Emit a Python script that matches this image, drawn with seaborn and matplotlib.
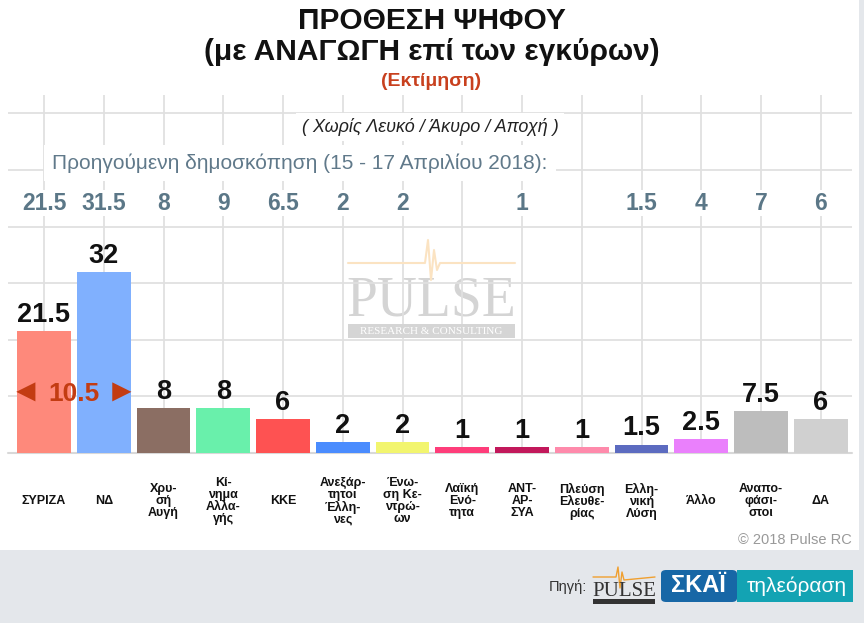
import matplotlib
matplotlib.use("Agg")
import matplotlib.pyplot as plt
import seaborn as sns
import pandas as pd
from matplotlib.patches import Rectangle, FancyBboxPatch
from matplotlib.lines import Line2D

# ---------------- data ----------------
parties = ["ΣΥΡΙΖΑ", "ΝΔ", "Χρυσή Αυγή", "Κίνημα Αλλαγής", "ΚΚΕ",
           "Ανεξάρτητοι Έλληνες", "Ένωση Κεντρώων", "Λαϊκή Ενότητα",
           "ΑΝΤΑΡΣΥΑ", "Πλεύση Ελευθερίας", "Ελληνική Λύση", "Άλλο",
           "Αναποφάσιστοι", "ΔΑ"]
tick_labels = ["ΣΥΡΙΖΑ", "ΝΔ", "Χρυ-\nσή\nΑυγή", "Κί-\nνημα\nΑλλα-\nγής", "ΚΚΕ",
               "Ανεξάρ-\nτητοι\nΈλλη-\nνες", "Ένω-\nση Κε-\nντρώ-\nων",
               "Λαϊκή\nΕνό-\nτητα", "ΑΝΤ-\nΑΡ-\nΣΥΑ", "Πλεύση\nΕλευθε-\nρίας",
               "Ελλη-\nνική\nΛύση", "Άλλο", "Αναπο-\nφάσι-\nστοι", "ΔΑ"]
values = [21.5, 32, 8, 8, 6, 2, 2, 1, 1, 1, 1.5, 2.5, 7.5, 6]
previous = [21.5, 31.5, 8, 9, 6.5, 2, 2, None, 1, None, 1.5, 4, 7, 6]
colors = ["#fe897b", "#80b0fe", "#8b6e63", "#69f0ab", "#fe5252", "#4a8cfe",
          "#f2f56e", "#fe3d7a", "#c2185b", "#fe8aab", "#5c6bc0", "#ea80fc",
          "#bdbdbd", "#d0d0d0"]

title1 = "ΠΡΟΘΕΣΗ ΨΗΦΟΥ"
title2 = "(με ΑΝΑΓΩΓΗ επί των εγκύρων)"
subtitle = "(Εκτίμηση)"
note = "( Χωρίς Λευκό / Άκυρο / Αποχή )"
prev_caption = "Προηγούμενη δημοσκόπηση (15 - 17 Απριλίου 2018):"
credit = "© 2018 Pulse RC"

# ---------------- style ----------------
sns.set_style("white")
SANS = ["Liberation Sans", "DejaVu Sans"]
NARROW = ["Liberation Sans Narrow", "Liberation Sans", "DejaVu Sans"]
SERIF = ["Liberation Serif", "DejaVu Serif"]
plt.rcParams["font.family"] = SANS

W, H = 864, 623
fig = plt.figure(figsize=(W / 100, H / 100), dpi=100, facecolor="white")


def fx(x):
    return x / W


def fy(y):
    return 1 - y / H


GRID = "#e0e0e0"

# axes placement (pixel geometry)
left_px, right_px, top_px, base_px = 8, 852, 95, 453
step_px = 59.75
px_per_unit = 5.66
ax = fig.add_axes([fx(left_px), fy(base_px), (right_px - left_px) / W, (base_px - top_px) / H])
ax.patch.set_alpha(0)

df = pd.DataFrame({"party": parties, "value": values})
sns.barplot(data=df, x="party", y="value", hue="party", palette=colors,
            order=parties, hue_order=parties, legend=False, width=0.9,
            saturation=1, linewidth=0, ax=ax)

x0 = -(44 - left_px) / step_px
ax.set_xlim(x0, x0 + (right_px - left_px) / step_px)
ax.set_ylim(0, (base_px - top_px) / px_per_unit)
ax.set_yticks(range(0, 61, 10))
ax.set_yticklabels([])
ax.tick_params(axis="y", length=0)
ax.set_axisbelow(True)
ax.grid(True, axis="both", color=GRID, linewidth=1.3)
for s in ax.spines.values():
    s.set_visible(False)
ax.axhline(0, color="#d8d8d8", linewidth=1.5, clip_on=False, zorder=0.6)
ax.set_xlabel("")
ax.set_ylabel("")

ax.set_xticks(range(len(parties)))
ax.set_xticklabels(tick_labels, fontsize=9, fontweight="bold", linespacing=0.98,
                   color="#111111")
ax.tick_params(axis="x", length=12.2, width=1.3, color=GRID, pad=22.5)
for lbl in ax.get_xticklabels():
    lbl.set_va("center")

# value labels
for i, v in enumerate(values):
    ax.annotate(f"{v:g}", (i, v), xytext=(0, 6.5), textcoords="offset points",
                ha="center", va="baseline", fontsize=19.5, fontweight="bold",
                color="#111111")

# lead arrow between first two parties
lead = values[1] - values[0]
LEAD_C = "#c33c12"
ax.text(0.5, lead, f"{lead:g}", ha="center", va="center", fontsize=19,
        fontweight="bold", color=LEAD_C, zorder=5)
ax.annotate("◄", (0.5, lead), xytext=(-34.5, 0), textcoords="offset points",
            ha="center", va="center", fontsize=23, color=LEAD_C, zorder=5)
ax.annotate("►", (0.5, lead), xytext=(34, 0), textcoords="offset points",
            ha="center", va="center", fontsize=23, color=LEAD_C, zorder=5)

# previous poll row
prev_y = (base_px - 203) / px_per_unit
for i, p in enumerate(previous):
    if p is None:
        continue
    ax.text(i, prev_y, f"{p:g}", ha="center", va="center", fontsize=16.5,
            fontweight="bold", color="#5b7787", zorder=3,
            bbox=dict(boxstyle="square,pad=0.05", fc="white", ec="none"))

# watermark
ax.text(fx(431), fy(315), "PULSE", transform=fig.transFigure, ha="center",
        va="baseline", fontsize=40, family=SERIF, color="#d4d4d4", zorder=0.4)
fig.lines.append(Line2D([fx(348), fx(425), fx(428), fx(431), fx(434), fx(437),
                         fx(440), fx(515)],
                        [fy(263), fy(263), fy(240), fy(280), fy(250), fy(270),
                         fy(263), fy(263)],
                        transform=fig.transFigure, color="#fbe3c2", lw=1.5,
                        zorder=0.3))
fig.patches.append(Rectangle((fx(348), fy(338)), fx(515) - fx(348), (338 - 324) / H,
                             transform=fig.transFigure, fc="#d5d5d5", ec="none",
                             zorder=0.3))
fig.text(fx(431), fy(331), "RESEARCH & CONSULTING", ha="center", va="center",
         fontsize=8, family=SERIF, color="white", zorder=0.35)

# titles
fig.text(fx(432), fy(21), title1, ha="center", va="center", fontsize=21.5,
         fontweight="bold", family=NARROW, color="#111111")
fig.text(fx(432), fy(52), title2, ha="center", va="center", fontsize=21.5,
         fontweight="bold", family=NARROW, color="#111111")
fig.text(fx(431), fy(81), subtitle, ha="center", va="center", fontsize=14,
         fontweight="bold", family=NARROW, color="#c8401e")
fig.text(fx(430), fy(127), note, ha="center", va="center", fontsize=13,
         style="italic", family=NARROW, color="#222222", zorder=4,
         bbox=dict(boxstyle="square,pad=0.3", fc="white", ec="none"))
fig.text(fx(52), fy(163), prev_caption, ha="left", va="center", fontsize=15,
         family=SANS, color="#60798a", zorder=4,
         bbox=dict(boxstyle="square,pad=0.4", fc="white", ec="none"))
fig.text(fx(852), fy(540), credit, ha="right", va="center", fontsize=10.5,
         family=SANS, color="#999999")

# footer / frame
fig.patches.append(Rectangle((0, 0), 1, (H - 550) / H, transform=fig.transFigure,
                             fc="#e4e7eb", ec="none", zorder=-10))
fig.patches.append(Rectangle((fx(859), 0), 1 - fx(859), 1, transform=fig.transFigure,
                             fc="#e4e7eb", ec="none", zorder=-10))
fig.text(fx(587), fy(587), "Πηγή:", ha="right", va="center", fontsize=10.5,
         family=SANS, color="#333333")
# small pulse logo
fig.text(fx(624), fy(596), "PULSE", ha="center", va="baseline", fontsize=15,
         family=SERIF, color="#333333")
fig.lines.append(Line2D([fx(593), fx(616), fx(618), fx(620), fx(622), fx(624), fx(655)],
                        [fy(577), fy(577), fy(567), fy(588), fy(572), fy(580), fy(577)],
                        transform=fig.transFigure, color="#f0a030", lw=1.0))
fig.patches.append(Rectangle((fx(593), fy(604)), fx(655) - fx(593), 5 / H,
                             transform=fig.transFigure, fc="#333333", ec="none"))
fig.patches.append(FancyBboxPatch((fx(661), fy(602)), fx(737) - fx(661), 32 / H,
                                  boxstyle="round,pad=0,rounding_size=0.006",
                                  transform=fig.transFigure, fc="#1767a6", ec="none"))
fig.patches.append(Rectangle((fx(737), fy(602)), fx(853) - fx(737), 32 / H,
                             transform=fig.transFigure, fc="#13a3b3", ec="none"))
fig.text(fx(698), fy(586), "ΣΚΑΪ", ha="center", va="center", fontsize=17,
         fontweight="bold", family=SANS, color="white")
fig.text(fx(797), fy(586), "τηλεόραση", ha="center", va="center", fontsize=15,
         family=SANS, color="white")

fig.savefig("out.png", dpi=100, facecolor="white")
